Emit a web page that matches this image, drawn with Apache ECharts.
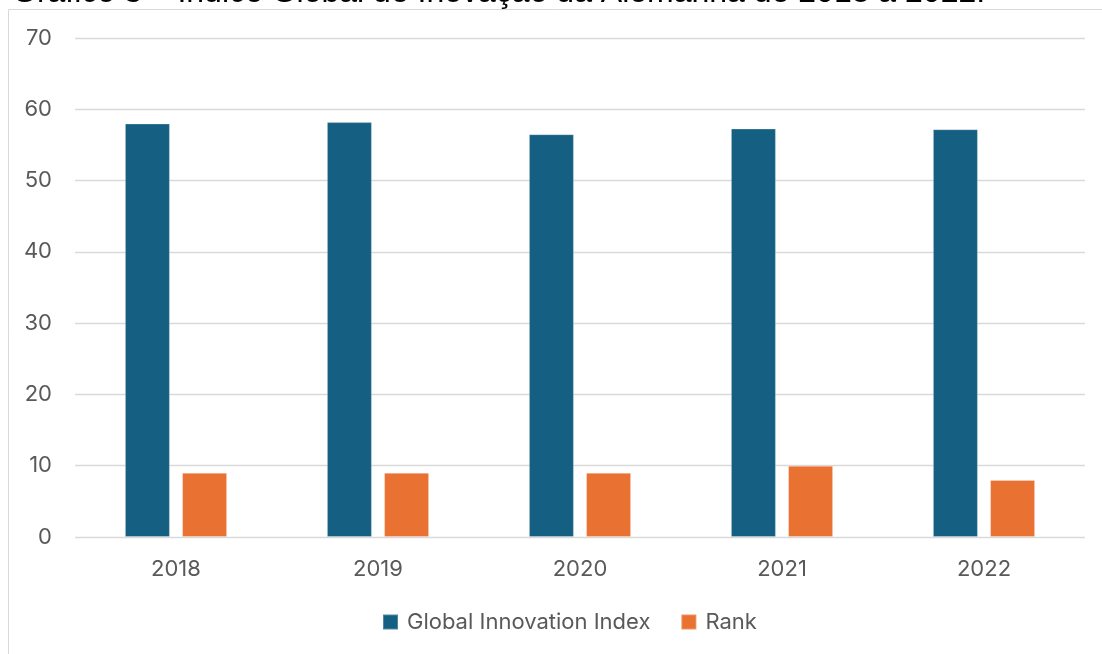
<!DOCTYPE html>
<html>
<head>
<meta charset="utf-8">
<style>
  html, body { margin: 0; padding: 0; background: #ffffff; }
  #chart { width: 1102px; height: 654px; }
</style>
<script src="https://cdn.jsdelivr.net/npm/echarts@6/dist/echarts.min.js"></script>
</head>
<body>
<div id="chart"></div>
<script>
// Germany in the Global Innovation Index, 2018–2022
const years = ['2018', '2019', '2020', '2021', '2022'];
const giiScore = [58.0, 58.2, 56.5, 57.3, 57.2];
const giiRank = [9, 9, 9, 10, 8];
const seriesNames = ['Global Innovation Index', 'Rank'];
const titleText = 'Gráfico 3 – Índice Global de Inovação da Alemanha de 2018 a 2022.';

const chart = echarts.init(document.getElementById('chart'), null, { renderer: 'canvas' });

const labelFont = 'Inter, "Noto Sans", sans-serif';
const textColor = '#595959';
const gridColor = '#D9D9D9';

chart.setOption({
  animation: false,
  backgroundColor: '#ffffff',
  graphic: [
    {
      type: 'rect',
      shape: { x: 8.5, y: 9.5, width: 1200, height: 800 },
      style: { fill: 'none', stroke: gridColor, lineWidth: 1 },
      z: -1
    },
    {
      // caption sits above the frame, partly clipped by the page edge
      type: 'text',
      x: 12,
      y: -6.5,
      style: {
        text: titleText,
        font: '32px "Liberation Sans", Arial, sans-serif',
        fill: '#000000',
        align: 'left',
        verticalAlign: 'middle'
      },
      z: 10
    }
  ],
  grid: { left: 75, right: 17, top: 38, bottom: 117 },
  legend: {
    data: seriesNames,
    bottom: 16,
    left: 377,
    itemWidth: 15,
    itemHeight: 15,
    itemGap: 30,
    icon: 'rect',
    textStyle: { color: textColor, fontSize: 22, fontFamily: labelFont, padding: [0, 0, 0, 4] }
  },
  xAxis: {
    type: 'category',
    data: years,
    axisLine: { show: false },
    axisTick: { show: false },
    axisLabel: { color: textColor, fontSize: 22, fontFamily: labelFont, margin: 21 }
  },
  yAxis: {
    type: 'value',
    min: 0,
    max: 70,
    interval: 10,
    axisLine: { show: false },
    axisTick: { show: false },
    axisLabel: { color: textColor, fontSize: 22, fontFamily: labelFont, margin: 23 },
    splitLine: { lineStyle: { color: gridColor, width: 1.3 } }
  },
  series: [
    {
      name: seriesNames[0],
      type: 'bar',
      data: giiScore,
      barWidth: 45,
      barGap: '27%',
      itemStyle: { color: '#156082', borderColor: 'rgba(255,255,255,0.25)', borderWidth: 1 }
    },
    {
      name: seriesNames[1],
      type: 'bar',
      data: giiRank,
      barWidth: 45,
      barGap: '27%',
      itemStyle: { color: '#E97132', borderColor: 'rgba(255,255,255,0.25)', borderWidth: 1 }
    }
  ]
});
</script>
</body>
</html>
